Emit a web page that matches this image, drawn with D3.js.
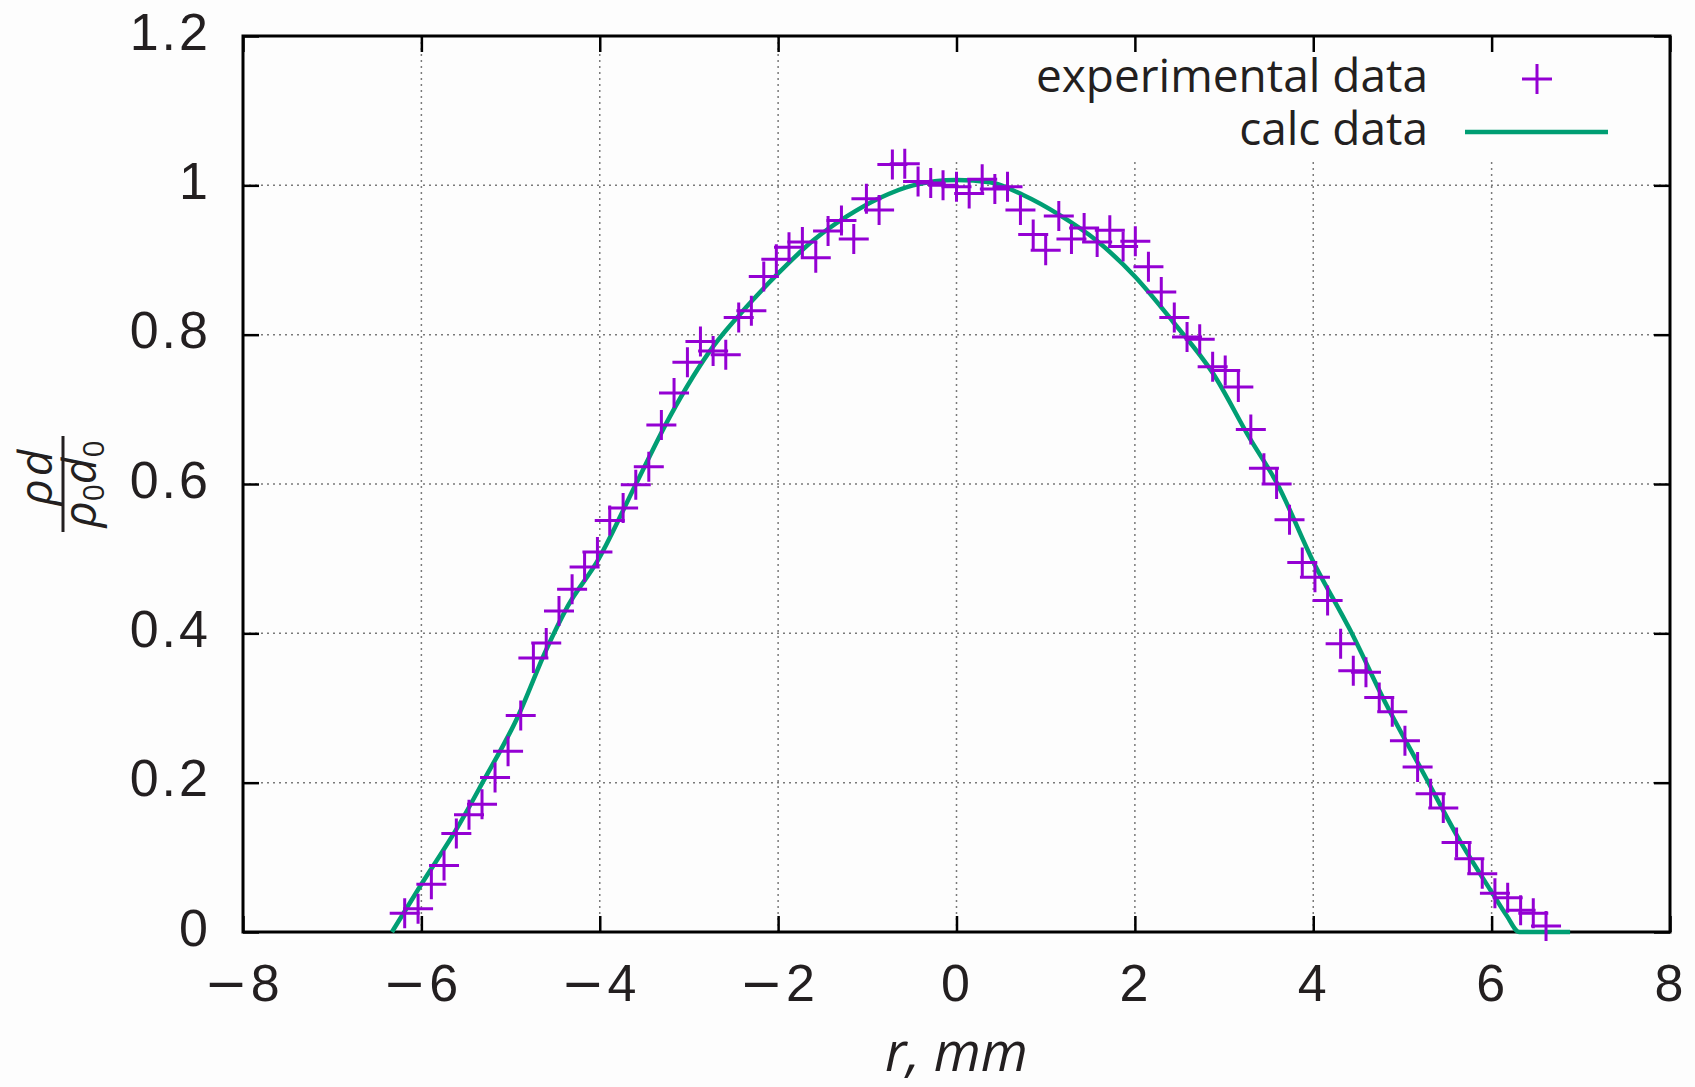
<!DOCTYPE html>
<html>
<head>
<meta charset="utf-8">
<script src="https://cdn.jsdelivr.net/npm/d3@7"></script>
<style>
	body { margin: 0; background: #fdfdfd; }
	svg { display: block; font-family: "Open Sans", sans-serif; }
</style>
</head>
<body>
<svg width="1695" height="1087"></svg>
<script>
// experimental points (r in mm, normalised density)
const expR = [-6.187, -6.037, -5.888, -5.746, -5.608, -5.466, -5.32, -5.174, -5.028, -4.886,
	-4.744, -4.6, -4.457, -4.31, -4.17, -4.026, -3.888, -3.738, -3.596, -3.45,
	-3.309, -3.167, -3.017, -2.871, -2.729, -2.587, -2.442, -2.3, -2.161, -2.02,
	-1.878, -1.728, -1.578, -1.44, -1.29, -1.152, -1.01, -0.868, -0.719, -0.58,
	-0.431, -0.289, -0.151, 0.0, 0.142, 0.288, 0.43, 0.572, 0.717, 0.86,
	1.0, 1.147, 1.289, 1.431, 1.577, 1.719, 1.868, 2.005, 2.152, 2.296,
	2.442, 2.585, 2.727, 2.872, 3.013, 3.16, 3.3, 3.447, 3.589, 3.734,
	3.877, 4.019, 4.161, 4.307, 4.449, 4.591, 4.74, 4.886, 5.028, 5.17,
	5.316, 5.458, 5.607, 5.75, 5.895, 6.037, 6.18, 6.325, 6.467, 6.61]
const expRho = [0.025, 0.031, 0.064, 0.089, 0.132, 0.157, 0.171, 0.207, 0.242, 0.29,
	0.367, 0.387, 0.43, 0.459, 0.489, 0.509, 0.551, 0.568, 0.599, 0.623,
	0.679, 0.722, 0.763, 0.791, 0.778, 0.773, 0.823, 0.832, 0.878, 0.901,
	0.917, 0.924, 0.903, 0.939, 0.953, 0.928, 0.982, 0.967, 1.028, 1.029,
	1.005, 1.003, 1.0, 0.998, 0.989, 1.008, 0.995, 0.998, 0.967, 0.934,
	0.913, 0.959, 0.928, 0.943, 0.924, 0.94, 0.918, 0.925, 0.891, 0.857,
	0.823, 0.797, 0.794, 0.757, 0.752, 0.73, 0.673, 0.621, 0.6, 0.552,
	0.495, 0.475, 0.444, 0.386, 0.35, 0.348, 0.314, 0.295, 0.256, 0.221,
	0.185, 0.166, 0.12, 0.098, 0.078, 0.052, 0.046, 0.029, 0.025, 0.008]

// calculated curve
const calcR = [-6.33, -6.0, -5.59, -5.31, -4.92, -4.6, -4.36, -4.02, -3.59, -3.215,
	-2.73, -2.356, -2.0, -1.608, -1.235, -0.861, -0.487, 0.0, 0.374, 0.747,
	1.158, 1.57, 2.0, 2.43, 2.877, 3.289, 3.589, 4.0, 4.411, 4.822,
	5.234, 5.645, 6.019, 6.168, 6.31, 6.88]
const calcRho = [0, 0.064, 0.141, 0.201, 0.288, 0.378, 0.436, 0.498, 0.601, 0.69,
	0.784, 0.837, 0.882, 0.926, 0.958, 0.983, 1.0, 1.007, 1.004, 0.987,
	0.96, 0.926, 0.878, 0.817, 0.748, 0.661, 0.602, 0.496, 0.405, 0.304,
	0.213, 0.122, 0.05, 0.022, 0, 0]

const xTicks = [-8, -6, -4, -2, 0, 2, 4, 6, 8]
const yTicks = [0, 0.2, 0.4, 0.6, 0.8, 1, 1.2]
const legendLabels = ["experimental data", "calc data"]

const purple = "#9400d3"
const green = "#009e73"
const ink = "#231f20"

let svg = d3.select('svg')
const padL = 243, padR = 1670, padT = 36, padB = 932
const fs = 52

const x = d3.scaleLinear().domain([-8, 8]).range([padL, padR])
const y = d3.scaleLinear().domain([0, 1.2]).range([padB, padT])
const fmt = d3.format("~g")

// grid
const grid = svg.append("g")
	.attr("stroke", "#7a7a7a")
	.attr("stroke-width", 1.5)
	.attr("stroke-dasharray", "2,4")
grid.selectAll(".vg")
	.data(xTicks.slice(1, -1))
	.join("line")
	.attr("class", "vg")
	.attr("x1", d => x(d)).attr("x2", d => x(d))
	.attr("y1", padT).attr("y2", padB)
grid.selectAll(".hg")
	.data(yTicks.slice(1, -1))
	.join("line")
	.attr("class", "hg")
	.attr("x1", padL).attr("x2", padR)
	.attr("y1", d => y(d)).attr("y2", d => y(d))

// opaque key box
svg.append("rect")
	.attr("x", 940).attr("y", padT)
	.attr("width", padR - 940).attr("height", 126)
	.attr("fill", "#fdfdfd")

// axes, ticks mirrored and pointing inwards
function styleAxis(g) {
	g.select(".domain").remove()
	g.selectAll(".tick line").attr("stroke", "#000").attr("stroke-width", 2.5)
	g.selectAll(".tick text")
		.attr("fill", ink)
		.style("font-size", fs + "px")
		.style("letter-spacing", "3px")
		.each(function () {
			// wide math minus like the original
			const t = d3.select(this)
			const s = t.text()
			if (s[0] === "\u2212") {
				t.text(null)
				t.append("tspan").style("font-family", "DejaVu Sans").text("\u2212")
				t.append("tspan").text(s.slice(1))
			}
		})
}

svg.append("g")
	.attr("transform", `translate(0,${padB})`)
	.call(d3.axisBottom(x).tickValues(xTicks).tickFormat(fmt).tickSizeInner(-16).tickSizeOuter(0).tickPadding(32))
	.call(styleAxis)
svg.append("g")
	.attr("transform", `translate(0,${padT})`)
	.call(d3.axisTop(x).tickValues(xTicks).tickFormat("").tickSizeInner(-16).tickSizeOuter(0))
	.call(styleAxis)
svg.append("g")
	.attr("transform", `translate(${padL},0)`)
	.call(d3.axisLeft(y).tickValues(yTicks).tickFormat(fmt).tickSizeInner(-16).tickSizeOuter(0).tickPadding(32))
	.call(styleAxis)
	.selectAll(".tick text").attr("dy", "0.25em")
svg.append("g")
	.attr("transform", `translate(${padR},0)`)
	.call(d3.axisRight(y).tickValues(yTicks).tickFormat("").tickSizeInner(-16).tickSizeOuter(0))
	.call(styleAxis)

svg.append("rect")
	.attr("x", padL).attr("y", padT)
	.attr("width", padR - padL).attr("height", padB - padT)
	.attr("fill", "none")
	.attr("stroke", "#000")
	.attr("stroke-width", 3)

// calc curve
const calc = calcR.map((r, i) => [r, calcRho[i]])
svg.append("path")
	.datum(calc)
	.attr("fill", "none")
	.attr("stroke", green)
	.attr("stroke-width", 4.5)
	.attr("stroke-linejoin", "round")
	.attr("d", d3.line().x(d => x(d[0])).y(d => y(d[1])).curve(d3.curveMonotoneX))

// experimental points
const plus = "M-15,0H15M0,-15V15"
const exp = expR.map((r, i) => [r, expRho[i]])
svg.append("g")
	.selectAll("path")
	.data(exp)
	.join("path")
	.attr("transform", d => `translate(${x(d[0])},${y(d[1])})`)
	.attr("d", plus)
	.attr("stroke", purple)
	.attr("stroke-width", 3)

// key
const key = svg.append("g")
key.selectAll("text")
	.data(legendLabels)
	.join("text")
	.attr("x", 1428)
	.attr("y", (d, i) => 92 + i * 53)
	.attr("text-anchor", "end")
	.attr("fill", ink)
	.style("font-size", "46px")
	.text(d => d)
key.append("path")
	.attr("transform", "translate(1537,79)")
	.attr("d", plus)
	.attr("stroke", purple)
	.attr("stroke-width", 3)
key.append("line")
	.attr("x1", 1465).attr("x2", 1608)
	.attr("y1", 132).attr("y2", 132)
	.attr("stroke", green)
	.attr("stroke-width", 4.5)

// axis titles
svg.append("text")
	.attr("x", x(0))
	.attr("y", 1071)
	.attr("text-anchor", "middle")
	.attr("fill", ink)
	.style("font-size", "54px")
	.style("font-style", "italic")
	.text("r, mm")

const ylab = svg.append("g")
	.attr("transform", "translate(63,484) rotate(-90)")
	.attr("fill", ink)
	.style("font-style", "italic")
	.style("font-size", "46px")
ylab.append("text")
	.attr("x", 8).attr("y", -11)
	.attr("text-anchor", "middle")
	.style("letter-spacing", "3px")
	.text("ρd")
const den = ylab.append("text")
	.attr("x", 0).attr("y", 33)
	.attr("text-anchor", "middle")
den.append("tspan").text("ρ")
den.append("tspan").attr("dy", 8).style("font-size", "30px").style("font-style", "normal").text("0")
den.append("tspan").attr("dy", -8).text("d")
den.append("tspan").attr("dy", 8).style("font-size", "30px").style("font-style", "normal").text("0")
ylab.append("line")
	.attr("x1", -48).attr("x2", 48)
	.attr("y1", 0).attr("y2", 0)
	.attr("stroke", ink)
	.attr("stroke-width", 3)
</script>
</body>
</html>
